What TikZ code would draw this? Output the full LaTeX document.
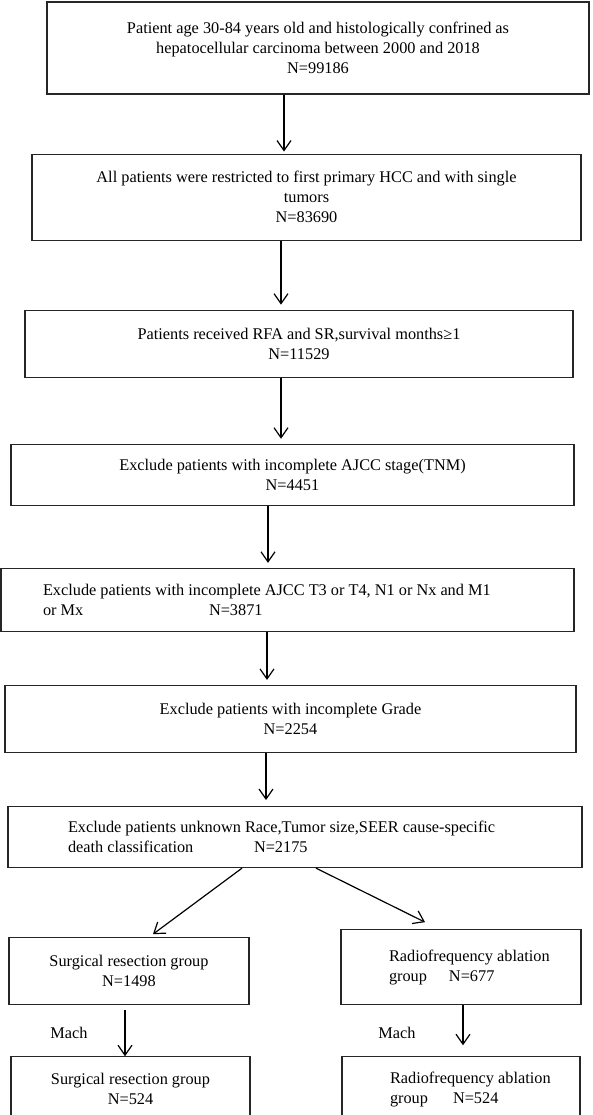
\documentclass[tikz,border=0pt]{standalone}
\usepackage{fontspec}
\setmainfont{Liberation Serif}
\usetikzlibrary{positioning,arrows.meta}
\begin{document}
\begin{tikzpicture}[x=1pt, y=-1pt, font=\fontsize{16.3}{20}\selectfont,
    box/.style={draw=black!85, line width=1.1pt, align=center, inner sep=0pt},
    lbox/.style={box, align=flush left},
    arr/.style={-{Straight Barb[length=10pt,width=14pt]}, line width=1.2pt}]
  \useasboundingbox (0,0) rectangle (592,1115);
  \node[box, minimum width=542pt, minimum height=92pt] (b1) at (318,48) {Patient age 30-84 years old and histologically confrined as\\hepatocellular carcinoma between 2000 and 2018\\N=99186};
  \node[box, minimum width=549pt, minimum height=86pt, below=59pt of b1, xshift=-11.5pt] (b2) {All patients were restricted to first primary HCC and with single\\tumors\\N=83690};
  \node[box, minimum width=548pt, minimum height=67pt, below=69pt of b2, xshift=-7.5pt] (b3) {Patients received RFA and SR,survival months≥1\\N=11529};
  \node[box, minimum width=563pt, minimum height=61pt, below=66pt of b3, xshift=-6.5pt] (b4) {Exclude patients with incomplete AJCC stage(TNM)\\N=4451};
  \node[lbox, text width=489pt, inner xsep=42pt, minimum height=63pt, below=62pt of b4, xshift=-5pt] (b5) {Exclude patients with incomplete AJCC T3 or T4, N1 or Nx and M1\\\makebox[166pt][l]{or Mx}N=3871};
  \node[box, minimum width=571pt, minimum height=67pt, below=53pt of b5, xshift=3pt] (b6) {Exclude patients with incomplete Grade\\N=2254};
  \node[lbox, text width=454pt, inner xsep=60pt, minimum height=61pt, below=53pt of b6, xshift=4.5pt] (b7) {Exclude patients unknown Race,Tumor size,SEER cause-specific\\\makebox[186pt][l]{death classification}N=2175};
  \node[box, minimum width=240pt, minimum height=67pt, below=69pt of b7, xshift=-166pt] (b8) {Surgical resection group\\N=1498};
  \node[lbox, text width=144pt, inner xsep=48pt, minimum height=75pt, below=61pt of b7, xshift=166pt] (b9) {\mbox{Radiofrequency ablation}\\\makebox[60pt][l]{group}N=677};
  \node[box, minimum width=239pt, minimum height=65pt, below=51pt of b8, xshift=1.5pt] (b10) {Surgical resection group\\N=524};
  \node[lbox, text width=142pt, inner xsep=48pt, minimum height=65pt, below=51pt of b9] (b11) {\mbox{Radiofrequency ablation}\\\makebox[63pt][l]{group}N=524};

  \path[arr] ([xshift=-34pt]b1.south) edge[shorten >=2pt] ([xshift=-22.5pt]b2.north);
  \path[arr] ([xshift=-25.5pt]b2.south) edge[shorten >=5pt] ([xshift=-18pt]b3.north);
  \path[arr] ([xshift=-18pt]b3.south) edge[shorten >=5pt] ([xshift=-11.5pt]b4.north);
  \path[arr] ([xshift=-24.5pt]b4.south) edge[shorten >=5pt] ([xshift=-19.5pt]b5.north);
  \path[arr] ([xshift=-20.5pt]b5.south) edge[shorten >=5pt] ([xshift=-23.5pt]b6.north);
  \path[arr] ([xshift=-24.5pt]b6.south) edge[shorten >=6pt] ([xshift=-29pt]b7.north);
  \path[arr] ([xshift=-53pt]b7.south) edge ([xshift=24pt, yshift=3pt]b8.north);
  \path[arr] ([xshift=21pt]b7.south) edge ([xshift=-36pt, yshift=7pt]b9.north);
  \path[arr] ([xshift=-4pt, yshift=-5pt]b8.south) edge node[left=37pt, inner sep=0pt] {Mach} ([xshift=-5.5pt]b10.north);
  \path[arr] ([xshift=2pt]b9.south) edge node[pos=0.7, left=47pt, inner sep=0pt] {Mach} ([xshift=2pt, yshift=11pt]b11.north);
\end{tikzpicture}
\end{document}
